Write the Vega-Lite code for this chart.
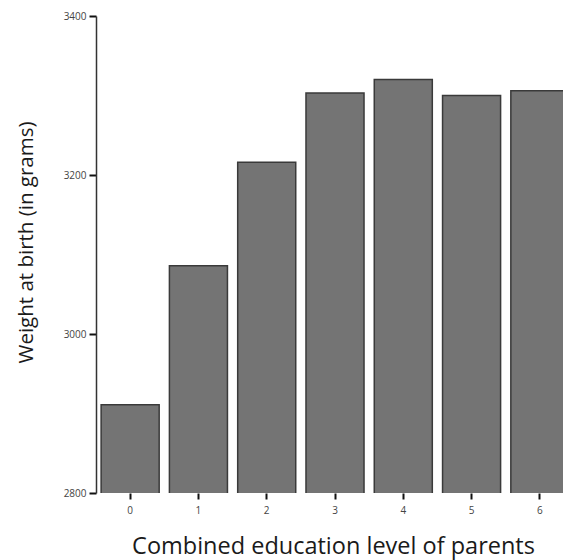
{
  "$schema": "https://vega.github.io/schema/vega-lite/v6.json",
  "width": 467,
  "height": 477,
  "autosize": {"type": "none"},
  "padding": {"left": 96, "top": 16, "right": 0, "bottom": 67},
  "background": "#ffffff",
  "config": {"view": {"stroke": null}, "font": "Open Sans"},
  "data": {
    "values": [
      {"level": "0", "weight": 2911},
      {"level": "1", "weight": 3086},
      {"level": "2", "weight": 3216},
      {"level": "3", "weight": 3303},
      {"level": "4", "weight": 3320},
      {"level": "5", "weight": 3300},
      {"level": "6", "weight": 3306}
    ]
  },
  "mark": {"type": "bar", "fill": "#747474", "stroke": "#3a3a3a", "strokeWidth": 1.5, "clip": true},
  "encoding": {
    "x": {
      "field": "level",
      "type": "ordinal",
      "sort": null,
      "scale": {"range": [0, 478], "paddingInner": 0.15, "paddingOuter": 0.075},
      "axis": {
        "title": "Combined education level of parents",
        "titleFontSize": 23.5,
        "titleFontWeight": "normal",
        "titleColor": "#1a1a1a",
        "titleX": 237,
        "titleY": 60,
        "titleBaseline": "alphabetic",
        "labelAngle": 0,
        "labelFontSize": 10,
        "labelColor": "#444444",
        "labelPadding": 6,
        "domain": false,
        "tickSize": 6,
        "tickWidth": 2,
        "tickColor": "#111111"
      }
    },
    "y": {
      "field": "weight",
      "type": "quantitative",
      "scale": {"domain": [2800, 3400], "zero": false, "nice": false},
      "axis": {
        "title": "Weight at birth (in grams)",
        "titleFontSize": 20.5,
        "titleFontWeight": "normal",
        "titleColor": "#1a1a1a",
        "titleX": -64,
        "titleY": 226,
        "titleBaseline": "alphabetic",
        "titleAngle": 270,
        "values": [2800, 3000, 3200, 3400],
        "format": "d",
        "labelFontSize": 10,
        "labelColor": "#444444",
        "labelPadding": 3,
        "grid": false,
        "domainColor": "#333333",
        "domainWidth": 1.5,
        "tickSize": 7,
        "tickWidth": 2,
        "tickColor": "#111111"
      }
    }
  }
}
